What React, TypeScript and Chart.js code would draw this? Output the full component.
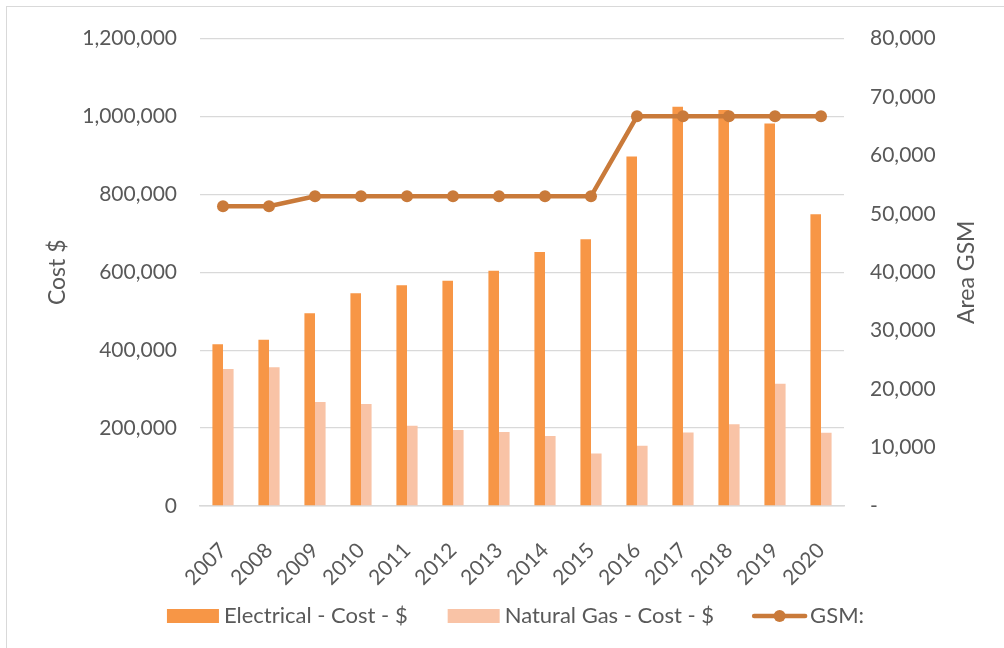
import React, { useEffect, useRef } from "react";
import { Chart, registerables } from "chart.js";

Chart.register(...registerables);

const years = ["2007", "2008", "2009", "2010", "2011", "2012", "2013", "2014", "2015", "2016", "2017", "2018", "2019", "2020"];
const electricalCost = [415000, 427000, 495000, 546000, 567000, 578000, 604000, 652000, 685000, 897000, 1025000, 1017000, 982000, 749000];
const gasCost = [352000, 356000, 267000, 262000, 206000, 195000, 190000, 180000, 135000, 155000, 189000, 210000, 314000, 188000];
const gsmArea = [51300, 51300, 53000, 53000, 53000, 53000, 53000, 53000, 53000, 66700, 66700, 66700, 66700, 66700];

const seriesLabels = ["Electrical - Cost - $", "Natural Gas - Cost - $", "GSM:"];
const axisTitleLeft = "Cost $";
const axisTitleRight = "Area GSM";

const COL_ELEC = "#F79646";
const COL_GAS = "#F9C3A6";
const COL_LINE = "#C97A3A";
const TEXT = "#595959";
const GRID = "#D9D9D9";
const FONT_FAMILY = "Lato, 'Open Sans', sans-serif";

const extrasPlugin = {
  id: "extras",
  afterDraw(chart: any) {
    const ctx = chart.ctx as CanvasRenderingContext2D;
    const area = chart.chartArea;
    ctx.save();
    ctx.fillStyle = TEXT;
    ctx.font = `23px ${FONT_FAMILY}`;
    ctx.textAlign = "center";
    ctx.textBaseline = "middle";
    const cy = (area.top + area.bottom) / 2;
    ctx.save();
    ctx.translate(58, cy);
    ctx.rotate(-Math.PI / 2);
    ctx.fillText(axisTitleLeft, 0, 0);
    ctx.restore();
    ctx.save();
    ctx.translate(967, cy);
    ctx.rotate(-Math.PI / 2);
    ctx.fillText(axisTitleRight, 0, 0);
    ctx.restore();

    ctx.font = `22px ${FONT_FAMILY}`;
    ctx.textAlign = "left";
    const w = seriesLabels.map((s) => ctx.measureText(s).width);
    const boxW = 52, boxH = 14, lineW = 55;
    const total = boxW + 5 + w[0] + 40 + boxW + 5 + w[1] + 38 + lineW + 3 + w[2];
    let x = 515.5 - total / 2;
    const y = 616;
    ctx.fillStyle = COL_ELEC;
    ctx.fillRect(x, y - boxH / 2, boxW, boxH);
    x += boxW + 5;
    ctx.fillStyle = TEXT;
    ctx.fillText(seriesLabels[0], x, y);
    x += w[0] + 40;
    ctx.fillStyle = COL_GAS;
    ctx.fillRect(x, y - boxH / 2, boxW, boxH);
    x += boxW + 5;
    ctx.fillStyle = TEXT;
    ctx.fillText(seriesLabels[1], x, y);
    x += w[1] + 38;
    ctx.strokeStyle = COL_LINE;
    ctx.lineWidth = 4.5;
    ctx.lineCap = "round";
    ctx.beginPath();
    ctx.moveTo(x + 2, y);
    ctx.lineTo(x + lineW - 2, y);
    ctx.stroke();
    ctx.fillStyle = COL_LINE;
    ctx.beginPath();
    ctx.arc(x + lineW / 2, y, 6, 0, Math.PI * 2);
    ctx.fill();
    x += lineW + 3;
    ctx.fillStyle = TEXT;
    ctx.fillText(seriesLabels[2], x, y);
    ctx.restore();
  },
};

export default function App() {
  const ref = useRef<HTMLCanvasElement | null>(null);

  useEffect(() => {
    document.body.style.margin = "0";
    document.body.style.overflow = "hidden";
    const canvas = ref.current;
    if (!canvas) return;
    const chart = new Chart(canvas, {
      type: "bar",
      data: {
        labels: years,
        datasets: [
          {
            type: "line",
            label: seriesLabels[2],
            data: gsmArea,
            yAxisID: "y1",
            borderColor: COL_LINE,
            backgroundColor: COL_LINE,
            borderWidth: 4.5,
            pointRadius: 6,
            pointBorderWidth: 0,
            pointBackgroundColor: COL_LINE,
            tension: 0,
            order: 0,
          } as any,
          {
            type: "bar",
            label: seriesLabels[0],
            data: electricalCost,
            yAxisID: "y",
            backgroundColor: COL_ELEC,
            categoryPercentage: 0.46,
            barPercentage: 1,
            order: 1,
          },
          {
            type: "bar",
            label: seriesLabels[1],
            data: gasCost,
            yAxisID: "y",
            backgroundColor: COL_GAS,
            categoryPercentage: 0.46,
            barPercentage: 1,
            order: 2,
          },
        ],
      },
      options: {
        responsive: false,
        animation: false,
        devicePixelRatio: 1,
        layout: { padding: { top: 33, left: 0, right: 0, bottom: 0 } },
        plugins: {
          legend: { display: false },
          tooltip: { enabled: false },
        },
        scales: {
          x: {
            grid: { display: false },
            border: { display: true, color: GRID, width: 1.5 },
            ticks: {
              color: TEXT,
              font: { family: FONT_FAMILY, size: 21 },
              minRotation: 45,
              maxRotation: 45,
              padding: 24,
              autoSkip: false,
            },
            afterFit: (s: any) => {
              s.height = 142;
            },
          },
          y: {
            position: "left",
            min: 0,
            max: 1200000,
            grid: { color: GRID, lineWidth: 1.3, drawTicks: false },
            border: { display: false },
            ticks: {
              stepSize: 200000,
              color: TEXT,
              font: { family: FONT_FAMILY, size: 21 },
              padding: 23,
              callback: (v: any) => Number(v).toLocaleString("en-US"),
            },
            afterFit: (s: any) => {
              s.width = 200;
            },
          },
          y1: {
            position: "right",
            min: 0,
            max: 80000,
            grid: { display: false, drawTicks: false },
            border: { display: false },
            ticks: {
              stepSize: 10000,
              color: TEXT,
              font: { family: FONT_FAMILY, size: 21 },
              padding: 26,
              callback: (v: any) => (Number(v) === 0 ? "-" : Number(v).toLocaleString("en-US")),
            },
            afterFit: (s: any) => {
              s.width = 160;
            },
          },
        },
      },
      plugins: [extrasPlugin],
    });
    return () => chart.destroy();
  }, []);

  return (
    <div style={{ position: "relative", width: 1004, height: 648, overflow: "hidden", background: "#fff" }}>
      <div
        style={{
          position: "absolute",
          left: 6,
          top: 6,
          width: 1100,
          height: 800,
          borderLeft: `1px solid ${GRID}`,
          borderTop: `1px solid ${GRID}`,
        }}
      />
      <canvas ref={ref} width={1004} height={648} style={{ position: "absolute", left: 0, top: 0, width: 1004, height: 648 }} />
    </div>
  );
}
